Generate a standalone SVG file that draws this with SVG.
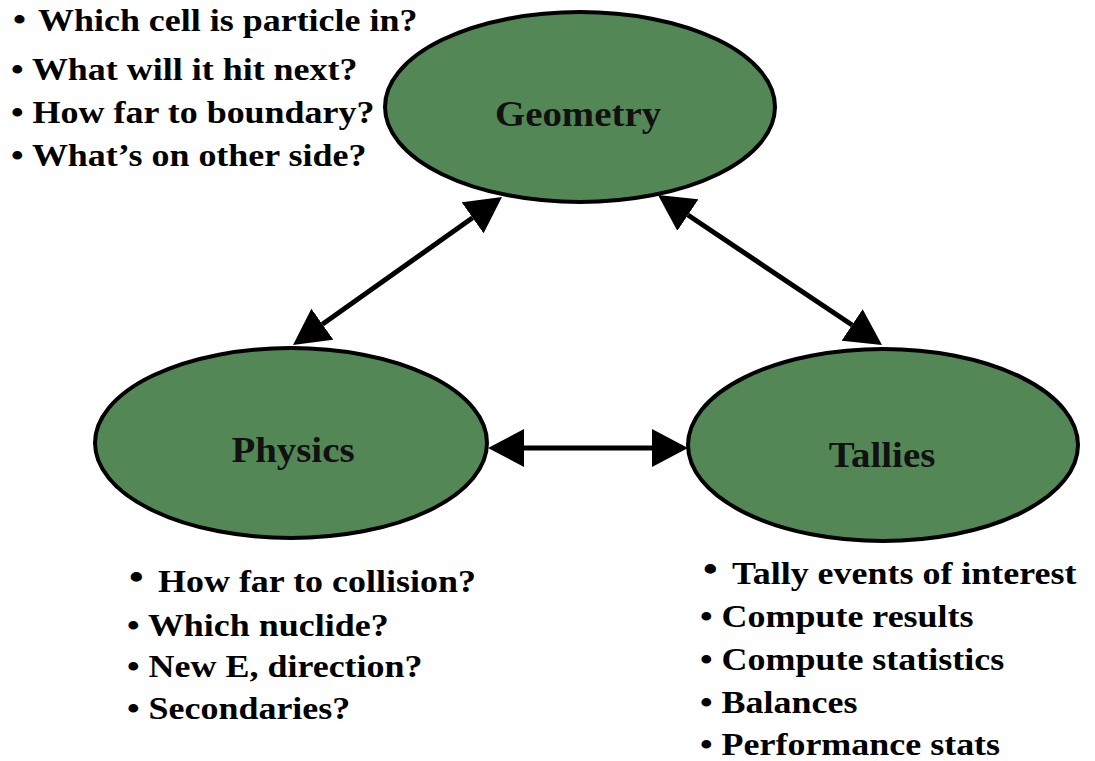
<svg xmlns="http://www.w3.org/2000/svg" width="1095" height="761" viewBox="0 0 1095 761">
<defs>
<style>
.node{fill:#538856;stroke:#000;stroke-width:4}
.lbl{font-family:"Liberation Serif","Times New Roman",serif;font-weight:bold;font-size:36px;fill:#111;text-anchor:middle}
.bt{font-family:"Liberation Serif","Times New Roman",serif;font-weight:bold;font-size:31px;fill:#000}
.bb{font-family:"Liberation Serif","Times New Roman",serif;font-weight:bold;font-size:36px;fill:#000}
.edge{stroke:#000;stroke-width:5;fill:none;marker-start:url(#ah);marker-end:url(#ah)}
</style>
<marker id="ah" markerUnits="userSpaceOnUse" viewBox="0 0 36 38" markerWidth="36" markerHeight="38" refX="0" refY="19" orient="auto-start-reverse">
<path d="M0,0 L36,19 L0,38 z" fill="#000"/>
</marker>
</defs>
<rect width="1095" height="761" fill="#fff"/>
<g id="connectors">
<line class="edge" x1="472.6" y1="217.8" x2="322.4" y2="324.2"/>
<line class="edge" x1="687.9" y1="215" x2="852.1" y2="325"/>
<line class="edge" x1="524" y1="448" x2="652" y2="448"/>
</g>
<g id="geometry">
<ellipse class="node" cx="580" cy="107" rx="195" ry="95"/>
<text class="lbl" transform="translate(578,126) scale(1.08,1)">Geometry</text>
</g>
<g id="physics">
<ellipse class="node" cx="291" cy="443" rx="196" ry="95"/>
<text class="lbl" transform="translate(293,462) scale(1.08,1)">Physics</text>
</g>
<g id="tallies">
<ellipse class="node" cx="883" cy="445" rx="195" ry="96"/>
<text class="lbl" transform="translate(882,467) scale(1.08,1)">Tallies</text>
</g>
<g id="geometry-notes">
<text class="bt" style="font-size:32px" transform="translate(13,30) scale(1.16,1)">•</text>
<text class="bt" transform="translate(38,31) scale(1.16,1)">Which cell is particle in?</text>
<text class="bt" transform="translate(11,80) scale(1.16,1)">• What will it hit next?</text>
<text class="bt" transform="translate(11,123) scale(1.16,1)">• How far to boundary?</text>
<text class="bt" transform="translate(11,166) scale(1.16,1)">• What’s on other side?</text>
</g>
<g id="physics-notes">
<text class="bb" transform="translate(129,589) scale(1.16,1)">•</text>
<text class="bt" transform="translate(158,592) scale(1.16,1)">How far to collision?</text>
<text class="bt" transform="translate(127,636) scale(1.16,1)">• Which nuclide?</text>
<text class="bt" transform="translate(127,677) scale(1.16,1)">• New E, direction?</text>
<text class="bt" transform="translate(127,719) scale(1.16,1)">• Secondaries?</text>
</g>
<g id="tallies-notes">
<text class="bb" transform="translate(703,581) scale(1.16,1)">•</text>
<text class="bt" transform="translate(732,584) scale(1.16,1)">Tally events of interest</text>
<text class="bt" transform="translate(700,627) scale(1.16,1)">• Compute results</text>
<text class="bt" transform="translate(700,670) scale(1.16,1)">• Compute statistics</text>
<text class="bt" transform="translate(700,713) scale(1.16,1)">• Balances</text>
<text class="bt" transform="translate(700,755) scale(1.16,1)">• Performance stats</text>
</g>
</svg>
